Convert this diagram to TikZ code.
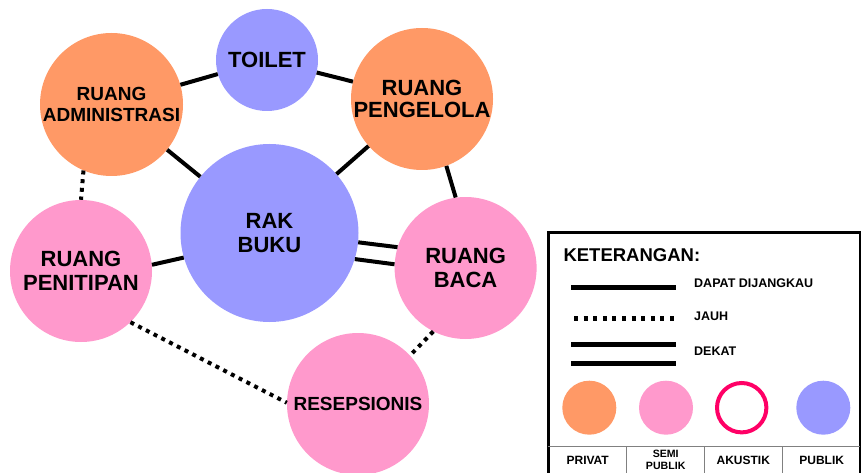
\documentclass[tikz,border=0pt]{standalone}
\usepackage{fontspec}
\setmainfont{Liberation Sans}
\definecolor{priv}{HTML}{FF9966}
\definecolor{semi}{HTML}{FF99CC}
\definecolor{publ}{HTML}{9999FF}
\definecolor{akus}{HTML}{FF0066}
\newcommand{\fs}[1]{\fontsize{#1}{#1}\selectfont}
\begin{document}
\begin{tikzpicture}[x=1pt,y=-1pt,
  room/.style={circle,inner sep=0pt,align=center,font=\bfseries\fontsize{22}{24.5}\selectfont},
  smallroom/.style={room,font=\bfseries\fontsize{19}{21}\selectfont},
  solidlink/.style={line width=4pt},
  dotlink/.style={line width=4pt,dash pattern=on 4pt off 4.7pt},
  legtext/.style={anchor=base west,inner sep=0pt,font=\bfseries\fs{12.5}},
  cattext/.style={anchor=base,inner sep=0pt,font=\bfseries\fs{12}},
  divider/.style={draw=black!50,line width=1pt}]
\useasboundingbox (0,0) rectangle (864,473);
\fill[white] (0,0) rectangle (864,473);

% rooms
\node[room,fill=publ,minimum size=102pt] (toilet) at (267,60) {TOILET};
\node[smallroom,fill=priv,minimum size=143pt] (admin) at (111.5,104.5) {RUANG\\ADMINISTRASI};
\node[room,fill=priv,minimum size=142pt,font=\bfseries\fontsize{22}{21.5}\selectfont] (peng) at (422,99) {RUANG\\PENGELOLA};
\node[room,fill=publ,minimum size=178pt] (rak) at (269.5,233) {RAK\\BUKU};
\node[room,fill=semi,minimum size=142pt] (pen) at (81,271) {RUANG\\PENITIPAN};
\node[room,fill=semi,minimum size=142pt] (baca) at (465.6,268) {RUANG\\BACA};
\node[smallroom,fill=semi,minimum size=142pt] (resep) at (358,404) {RESEPSIONIS};

% connectors
\draw[solidlink] (admin) -- (toilet);
\draw[solidlink] (toilet) -- (peng);
\draw[solidlink] (admin) -- (rak);
\draw[solidlink] (peng) -- (rak);
\draw[solidlink] (peng.-70) -- (baca.98);
\draw[solidlink] (pen.5) -- (rak.196);
\draw[solidlink] (rak.-6.6) -- (baca.163.7);
\draw[solidlink] (rak.-17.7) -- (baca.177.6);
\draw[dotlink] (admin.247.6) -- (pen.90);
\draw[dotlink] (pen.-46.9) -- (resep.179);
\draw[dotlink] (baca.243) -- (resep.43);

% legend
\draw[line width=2.5pt] (548.3,480) -- (548.3,232.7) -- (860,232.7) -- (860,480);
\node[anchor=base west,inner sep=0pt,font=\bfseries\fs{18.5}] (ket) at (563.3,261) {KETERANGAN:};
\coordinate (l1a) at (571,287.3); \coordinate (l1b) at (675.7,287.3);
\coordinate (l2a) at (574,318.7); \coordinate (l2b) at (675.7,318.7);
\coordinate (l3a) at (571,344.3); \coordinate (l3b) at (675.7,344.3);
\coordinate (l4a) at (571,363.3); \coordinate (l4b) at (675.7,363.3);
\draw[line width=5pt] (l1a) -- (l1b);
\draw[line width=5pt,dash pattern=on 4pt off 5.6pt] (l2a) -- (l2b);
\draw[line width=5pt] (l3a) -- (l3b);
\draw[line width=5pt] (l4a) -- (l4b);
\node[legtext] (t1) at (694,287.8) {DAPAT DIJANGKAU};
\node[legtext] (t2) at (694,320.5) {JAUH};
\node[legtext] (t3) at (694,355.2) {DEKAT};

\node[circle,fill=priv,minimum size=54pt,inner sep=0pt] (cpriv) at (589.3,407.7) {};
\node[circle,fill=semi,minimum size=54pt,inner sep=0pt] (csemi) at (666,407.7) {};
\node[circle,draw=akus,line width=4pt,minimum size=49.4pt,inner sep=0pt] (cakus) at (741.7,407.7) {};
\node[circle,fill=publ,minimum size=54pt,inner sep=0pt] (cpubl) at (823.3,407.7) {};

\draw[divider] (548.3,446.7) -- (860,446.7);
\draw[divider] (626,446.7) -- (626,480);
\draw[divider] (704,446.7) -- (704,480);
\draw[divider] (782,446.7) -- (782,480);

\node[cattext] (lpriv) at (587.7,464.3) {PRIVAT};
\node[anchor=base,inner sep=0pt,font=\bfseries\fs{10.6}] (lsemi1) at (665.7,457.1) {SEMI};
\node[anchor=base,inner sep=0pt,font=\bfseries\fs{10.6}] (lsemi2) at (665.7,469.5) {PUBLIK};
\node[cattext] (lakus) at (743.3,464.3) {AKUSTIK};
\node[cattext] (lpubl) at (821.7,464.3) {PUBLIK};
\end{tikzpicture}
\end{document}
